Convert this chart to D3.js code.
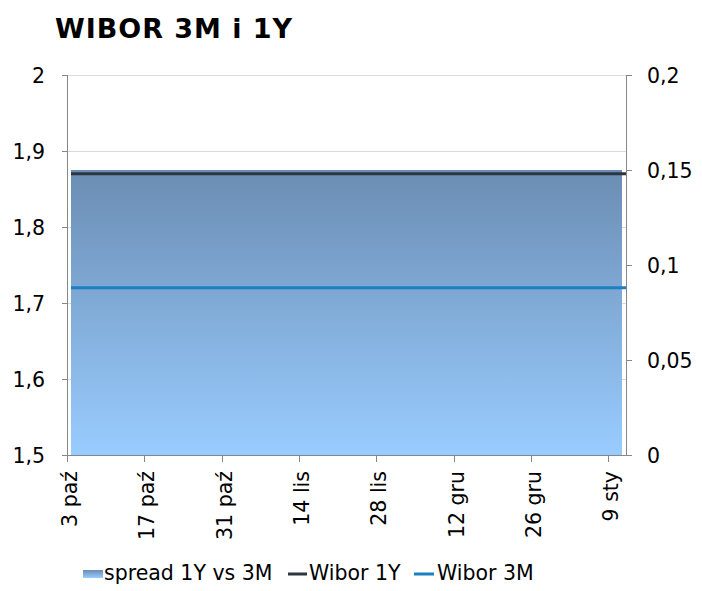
<!DOCTYPE html>
<html><head><meta charset="utf-8">
<script src="https://cdn.jsdelivr.net/npm/d3@7"></script>
<style>body{margin:0;background:#fff}svg{display:block}text{font-family:"DejaVu Sans",Verdana,sans-serif}</style>
</head><body>
<script>
const dates = ["2016-10-03","2016-10-17","2016-10-31","2016-11-14","2016-11-28","2016-12-12","2016-12-26","2017-01-09","2017-01-12"];
const wibor1Y = [1.87,1.87,1.87,1.87,1.87,1.87,1.87,1.87,1.87];
const wibor3M = [1.72,1.72,1.72,1.72,1.72,1.72,1.72,1.72,1.72];
const spread = [0.15,0.15,0.15,0.15,0.15,0.15,0.15,0.15,0.15];
const tickDates = ["2016-10-03","2016-10-17","2016-10-31","2016-11-14","2016-11-28","2016-12-12","2016-12-26","2017-01-09"];
const tickLabels = ["3 paź","17 paź","31 paź","14 lis","28 lis","12 gru","26 gru","9 sty"];
const leftTicks = [1.5,1.6,1.7,1.8,1.9,2];
const rightTicks = [0,0.05,0.1,0.15,0.2];

const W=702,H=591, L=67, R=626, T=75, B=455;
const parse=d3.timeParse("%Y-%m-%d");
const data=dates.map((d,i)=>({d:parse(d),y1:wibor1Y[i],y3:wibor3M[i],s:spread[i]}));
const x=d3.scaleTime().domain([parse("2016-10-03"),parse("2017-01-12")]).range([L,R-1]);
const yL=d3.scaleLinear().domain([1.5,2]).range([B,T]);
const yR=d3.scaleLinear().domain([0,0.2]).range([B,T]);
const fmt=v=>String(v).replace(".",",");

const svg=d3.select("body").append("svg").attr("width",W).attr("height",H);
const defs=svg.append("defs");
const g1=defs.append("linearGradient").attr("id","ag").attr("x1",0).attr("y1",0).attr("x2",0).attr("y2",1);
g1.append("stop").attr("offset","0%").attr("stop-color","#6b8db3");
g1.append("stop").attr("offset","100%").attr("stop-color","#99ccff");

svg.append("text").attr("x",55).attr("y",38).attr("font-size",27).attr("font-weight","bold").attr("fill","#000")
  .attr("textLength",237).attr("lengthAdjust","spacing").text("WIBOR 3M i 1Y");

// gridlines
svg.append("g").selectAll("line").data(leftTicks.slice(1)).join("line")
  .attr("x1",L).attr("x2",R).attr("y1",d=>Math.round(yL(d))+0.5).attr("y2",d=>Math.round(yL(d))+0.5)
  .attr("stroke","#d9d9d9").attr("stroke-width",1);

// area
defs.append("clipPath").attr("id","ac").append("rect").attr("x",L+4).attr("y",T).attr("width",R-L-8).attr("height",B-T);
const area=d3.area().x(d=>x(d.d)).y0(yR(0)).y1(d=>yR(d.s));
svg.append("path").datum(data).attr("d",area).attr("fill","url(#ag)").attr("clip-path","url(#ac)");

// lines
defs.append("clipPath").attr("id","lc").append("rect").attr("x",L+2).attr("y",T).attr("width",R-L-4).attr("height",B-T);
const l1=d3.line().x(d=>x(d.d)).y(d=>yL(d.y1));
const l3=d3.line().x(d=>x(d.d)).y(d=>yL(d.y3));
svg.append("path").datum(data).attr("d",l1).attr("fill","none").attr("stroke","#2c3540").attr("stroke-width",3).attr("transform","translate(2,0)").attr("clip-path","url(#lc)");
svg.append("path").datum(data).attr("d",l3).attr("fill","none").attr("stroke","#1b80c1").attr("stroke-width",3).attr("transform","translate(2,0)").attr("clip-path","url(#lc)");

// axes
const ax=svg.append("g").attr("stroke","#878787").attr("stroke-width",1).attr("shape-rendering","crispEdges");
ax.append("line").attr("x1",L+0.5).attr("x2",L+0.5).attr("y1",T).attr("y2",B);
ax.append("line").attr("x1",R+0.5).attr("x2",R+0.5).attr("y1",T).attr("y2",B);
ax.append("line").attr("x1",L).attr("x2",R).attr("y1",B+0.5).attr("y2",B+0.5);
ax.selectAll(".lt").data(leftTicks).join("line").attr("x1",L-5).attr("x2",L)
  .attr("y1",d=>Math.round(yL(d))+0.5).attr("y2",d=>Math.round(yL(d))+0.5);
ax.selectAll(".rt").data(rightTicks).join("line").attr("x1",R).attr("x2",R+6)
  .attr("y1",d=>Math.round(yR(d))+0.5).attr("y2",d=>Math.round(yR(d))+0.5);
ax.selectAll(".xt").data(tickDates).join("line")
  .attr("x1",d=>Math.round(x(parse(d)))+0.5).attr("x2",d=>Math.round(x(parse(d)))+0.5).attr("y1",B).attr("y2",B+7);

svg.append("g").selectAll("text").data(leftTicks).join("text")
  .attr("x",45).attr("y",d=>yL(d)+8).attr("text-anchor","end").attr("font-size",20.5).attr("fill","#000").text(fmt);
svg.append("g").selectAll("text").data(rightTicks).join("text")
  .attr("x",647).attr("y",d=>yR(d)+8).attr("text-anchor","start").attr("font-size",20.5).attr("fill","#000").text(fmt);
svg.append("g").selectAll("text").data(tickDates).join("text")
  .attr("transform",d=>`translate(${x(parse(d))+10},471) rotate(-90)`)
  .attr("text-anchor","end").attr("font-size",20.5).attr("fill","#000").text((d,i)=>tickLabels[i]);

// legend
const lg=svg.append("g");
lg.append("rect").attr("x",83).attr("y",570).attr("width",20).attr("height",8).attr("fill","url(#ag)");
lg.append("text").attr("x",104).attr("y",580).attr("font-size",20.5).text("spread 1Y vs 3M");
lg.append("line").attr("x1",288).attr("x2",307).attr("y1",574).attr("y2",574).attr("stroke","#2c3540").attr("stroke-width",3);
lg.append("text").attr("x",309).attr("y",580).attr("font-size",20.5).text("Wibor 1Y");
lg.append("line").attr("x1",414).attr("x2",434).attr("y1",574).attr("y2",574).attr("stroke","#1b80c1").attr("stroke-width",3);
lg.append("text").attr("x",437).attr("y",580).attr("font-size",20.5).text("Wibor 3M");
</script>
</body></html>
